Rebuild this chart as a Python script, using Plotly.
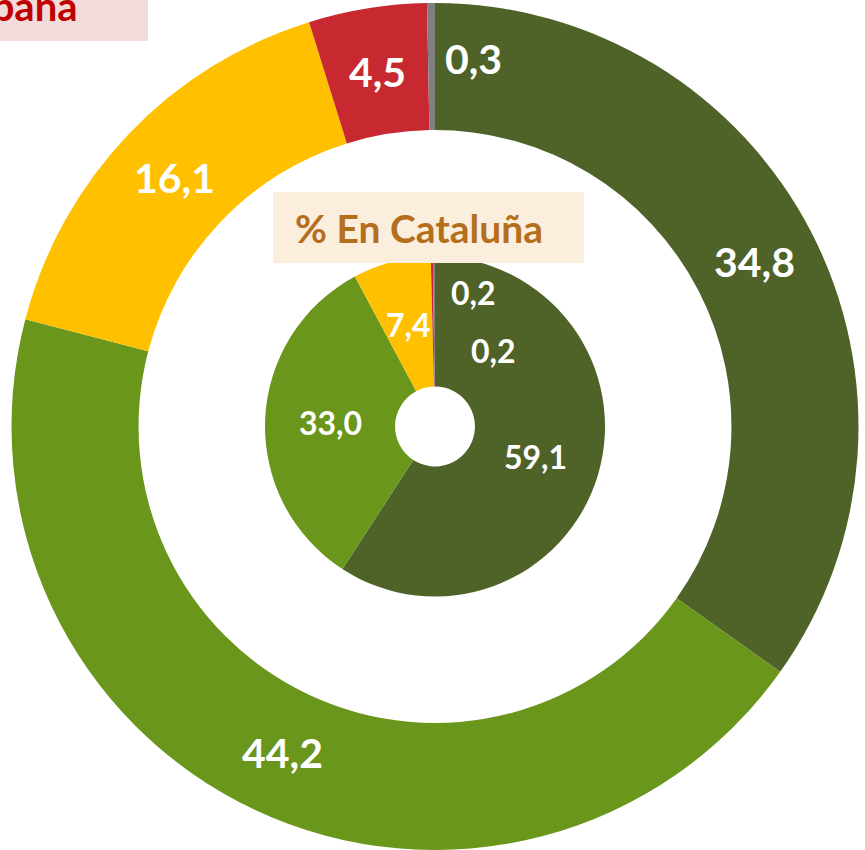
import math
import plotly.graph_objects as go

# ---------------- data ----------------
categories = ["Cat 1", "Cat 2", "Cat 3", "Cat 4", "Cat 5"]
espana_values = [34.8, 44.2, 16.1, 4.5, 0.3]      # outer ring: % En España
cataluna_values = [59.1, 33.0, 7.4, 0.2, 0.2]     # inner ring: % En Cataluña
colors = ["#4F6228", "#6A961B", "#FFC000", "#C8282F", "#808080"]
outer_title = "% En España"
inner_title = "% En Cataluña"

W, H = 865, 850

# ---------------- geometry (pixels) ----------------
CX, CY = 435, 426.5
R_OUT, HOLE_OUT = 423.5, 0.70
R_IN, HOLE_IN = 170, 0.235


def px(x):
    return x / W


def py(y):
    return 1 - y / H


def fmt(v):
    return f"{v:.1f}".replace(".", ",")


fig = go.Figure()

fig.add_trace(go.Pie(
    labels=categories, values=espana_values, hole=HOLE_OUT,
    sort=False, direction="clockwise", rotation=0,
    marker=dict(colors=colors, line=dict(width=0)),
    textinfo="none", hoverinfo="label+value", showlegend=False,
    domain=dict(x=[px(CX - R_OUT), px(CX + R_OUT)], y=[py(CY + R_OUT), py(CY - R_OUT)]),
))
fig.add_trace(go.Pie(
    labels=categories, values=cataluna_values, hole=HOLE_IN,
    sort=False, direction="clockwise", rotation=0,
    marker=dict(colors=colors, line=dict(width=0)),
    textinfo="none", hoverinfo="label+value", showlegend=False,
    domain=dict(x=[px(CX - R_IN), px(CX + R_IN)], y=[py(CY + R_IN), py(CY - R_IN)]),
))

# label positions: slice centroids, with manual placement for tiny slices
outer_override = {4: (473, 58)}
inner_override = {3: (473, 292), 4: (493, 350)}


def add_labels(values, r_outer, hole, size, override):
    total = sum(values)
    cum = 0.0
    rmid = r_outer * (1 + hole) / 2
    for i, v in enumerate(values):
        mid = (cum + v / 2) / total * 2 * math.pi
        cum += v
        x = CX + rmid * math.sin(mid)
        y = CY - rmid * math.cos(mid)
        if i in override:
            x, y = override[i]
        fig.add_annotation(
            x=px(x), y=py(y), xref="paper", yref="paper",
            text=fmt(v), showarrow=False, xanchor="center", yanchor="middle",
            font=dict(family="Lato", size=size, color="white", weight="bold"),
        )


add_labels(espana_values, R_OUT, HOLE_OUT, 41, outer_override)
add_labels(cataluna_values, R_IN, HOLE_IN, 32, inner_override)

# title boxes
fig.add_shape(type="rect", xref="paper", yref="paper",
              x0=px(-160), x1=px(148), y0=py(41), y1=py(-30),
              fillcolor="#F2DCDB", line=dict(width=0), layer="above")
fig.add_annotation(x=px(80), y=py(6), xref="paper", yref="paper",
                   text=outer_title, showarrow=False, xanchor="right", yanchor="middle",
                   font=dict(family="Lato", size=40, color="#C00000", weight="bold"))

fig.add_shape(type="rect", xref="paper", yref="paper",
              x0=px(273), x1=px(584), y0=py(263), y1=py(192),
              fillcolor="#FBEEDD", line=dict(width=0), layer="above")
fig.add_annotation(x=px(293), y=py(228), xref="paper", yref="paper",
                   text=inner_title, showarrow=False, xanchor="left", yanchor="middle",
                   font=dict(family="Lato", size=39, color="#B46F1C", weight="bold"))

fig.update_layout(
    width=W, height=H, margin=dict(l=0, r=0, t=0, b=0),
    paper_bgcolor="white", plot_bgcolor="white",
)

fig.write_html("out.html", config={"displayModeBar": False},
               post_script="document.body.style.margin='0';")
